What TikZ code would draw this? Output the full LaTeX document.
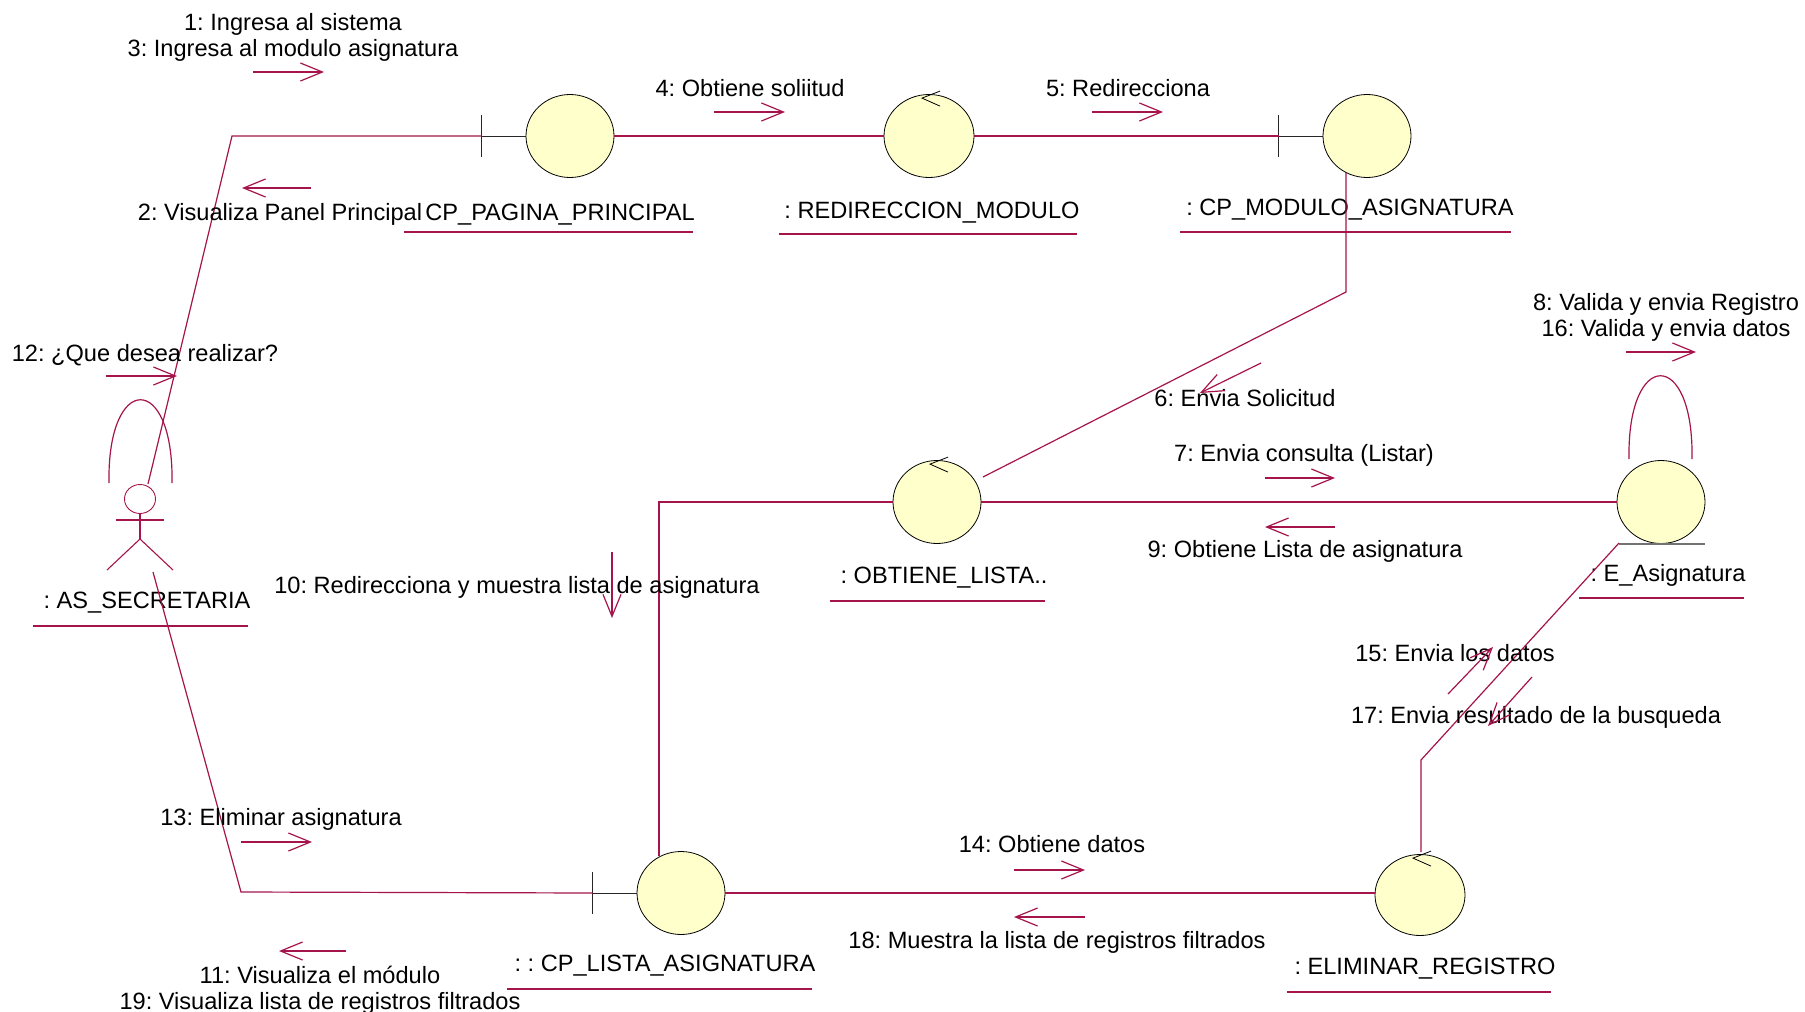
\documentclass[tikz,border=0pt]{standalone}
\usepackage{fontspec}
\setmainfont{Liberation Sans}
\usetikzlibrary{shapes.geometric,arrows.meta}
\definecolor{rose}{RGB}{165,20,75}
\definecolor{objfill}{RGB}{255,255,204}
\frenchspacing
\begin{document}
\begin{tikzpicture}[x=1pt,y=-1pt,
  lnk/.style={draw=rose,line width=1.2pt},
  msg/.style={draw=rose,line width=1.2pt,-{Straight Barb[length=22pt,width=18pt]}},
  obj/.style={ellipse,draw=black,line width=0.8pt,fill=objfill,inner sep=0pt,minimum width=88pt,minimum height=83pt},
  lbl/.style={inner sep=0pt,anchor=base,font=\fontsize{23.6}{26}\selectfont},
  mlbl/.style={inner sep=0pt,align=center,font=\fontsize{23.6}{26}\selectfont},
  uline/.style={draw=rose,line width=1.4pt},
  stub/.style={draw=black!85,line width=0.9pt},
  ctl/.style={draw=black,line width=0.8pt},
]
\useasboundingbox (0,0) rectangle (1805,1012);
\fill[white] (0,0) rectangle (1805,1012);

% ---------- objects ----------
\node[obj] (cpp) at (570,136) {};
\node[obj,minimum width=90pt] (red) at (929,136) {};
\node[obj] (cpm) at (1367,136) {};
\node[obj] (obt) at (937,502) {};
\node[obj] (ent) at (1661,502) {};
\node[obj] (lst) at (681,893) {};
\node[obj,minimum width=90pt,minimum height=81pt] (eli) at (1420,895) {};

% boundary stubs
\foreach \o in {cpp,cpm,lst}{
  \coordinate (\o T) at ([xshift=-44pt]\o.west);
  \draw[stub] (\o T) -- (\o.west);
  \draw[stub] ([yshift=21pt]\o T) -- ([yshift=-21pt]\o T);
}
% control arrows
\foreach \o in {red,obt,eli}{
  \draw[ctl] ([xshift=11pt,yshift=3pt]\o.north) -- ([xshift=-7pt,yshift=-4pt]\o.north) -- ([xshift=11pt,yshift=-12pt]\o.north);
}
% entity underline
\draw[draw=black!55,line width=1.2pt] ([xshift=-42pt]ent.south) -- ([xshift=44pt]ent.south);

% actor
\node[ellipse,draw=rose,line width=0.9pt,minimum width=31pt,minimum height=29pt,inner sep=0pt] (act) at (140,499) {};
\draw[rose,line width=1.1pt] (act.south) -- (140,539) coordinate (hip);
\draw[rose,line width=1.1pt] (116,520) -- (164,520);
\draw[rose,line width=1.1pt] (107,570) -- (hip) -- (173,570);

% ---------- labels & underlines ----------
\node[lbl] (lcpp) at (560,220) {CP\_PAGINA\_PRINCIPAL};
\draw[uline] (404,232) -- (693,232);
\node[lbl] (lred) at (932,218) {: REDIRECCION\_MODULO};
\draw[uline] (779,234) -- (1077,234);
\node[lbl] (lcpm) at (1350,215) {: CP\_MODULO\_ASIGNATURA};
\draw[uline] (1180,232) -- (1511,232);
\node[lbl] (lobt) at (944,583) {: OBTIENE\_LISTA..};
\draw[uline] (830,601) -- (1045,601);
\node[lbl] (lent) at (1668,581) {: E\_Asignatura};
\draw[uline] (1579,598) -- (1744,598);
\node[lbl] (lact) at (147,608) {: AS\_SECRETARIA};
\draw[uline] (33,626) -- (248,626);
\node[lbl] (llst) at (665,971) {: : CP\_LISTA\_ASIGNATURA};
\draw[uline] (507,989) -- (812,989);
\node[lbl] (leli) at (1425,974) {: ELIMINAR\_REGISTRO};
\draw[uline] (1287,992) -- (1551,992);

% ---------- links ----------
\coordinate (aTop) at (148,484);
\coordinate (aBot) at (153,572);
\coordinate (k1) at (232,136);
\draw[lnk] (aTop) -- (k1) -- (cppT);
\draw[lnk] (cpp.east) -- (red.west);
\draw[lnk] (red.east) -- (cpmT);
\coordinate (k2a) at (1346,173);
\coordinate (k2b) at (1346,292);
\coordinate (k2c) at (983,477);
\draw[lnk] (k2a) -- (k2b) -- (k2c);
\draw[lnk] (obt.east) -- (ent.west);
\coordinate (k3a) at (659,502);
\coordinate (k3b) at (659,856);
\draw[lnk] (obt.west) -- (k3a) -- (k3b);
\coordinate (k4) at (241,892);
\draw[lnk] (aBot) -- (k4) -- (lstT);
\draw[lnk] (lst.east) -- (lst.east -| eli.west);
\coordinate (k5a) at (1421,852);
\coordinate (k5b) at (1421,760);
\coordinate (k5c) at (1619,543);
\draw[lnk] (k5a) -- (k5b) -- (k5c);
% self loops
\coordinate (sa1) at (109,483);
\coordinate (sa2) at (172,483);
\draw[lnk] (sa1) .. controls (107,372) and (174,372) .. (sa2);
\coordinate (se1) at (1629,459);
\coordinate (se2) at (1692,459);
\draw[lnk] (se1) .. controls (1627,348) and (1694,348) .. (se2);

% ---------- messages ----------
\node[mlbl] (t1) at (293,37) {1: Ingresa al sistema\\3: Ingresa al modulo asignatura};
\coordinate (m1a) at (253,72); \coordinate (m1b) at (324,72);
\draw[msg] (m1a) -- (m1b);
\node[lbl] (t2) at (280,220) {2: Visualiza Panel Principal};
\coordinate (m2a) at (311,188); \coordinate (m2b) at (242,188);
\draw[msg] (m2a) -- (m2b);
\node[lbl] (t4) at (750,96) {4: Obtiene soliitud};
\coordinate (m4a) at (714,112); \coordinate (m4b) at (785,112);
\draw[msg] (m4a) -- (m4b);
\node[lbl] (t5) at (1128,96) {5: Redirecciona};
\coordinate (m5a) at (1092,112); \coordinate (m5b) at (1163,112);
\draw[msg] (m5a) -- (m5b);
\node[lbl] (t6) at (1245,406) {6: Envia Solicitud};
\coordinate (m6a) at (1261,363); \coordinate (m6b) at (1200,393);
\draw[msg] (m6a) -- (m6b);
\node[lbl] (t7) at (1304,461) {7: Envia consulta (Listar)};
\coordinate (m7a) at (1265,478); \coordinate (m7b) at (1335,478);
\draw[msg] (m7a) -- (m7b);
\node[lbl] (t9) at (1305,557) {9: Obtiene Lista de asignatura};
\coordinate (m9a) at (1335,527); \coordinate (m9b) at (1265,527);
\draw[msg] (m9a) -- (m9b);
\node[mlbl] (t8) at (1666,317) {8: Valida y envia Registro\\16: Valida y envia datos};
\coordinate (m8a) at (1626,352); \coordinate (m8b) at (1696,352);
\draw[msg] (m8a) -- (m8b);
\node[lbl] (t10) at (517,593) {10: Redirecciona y muestra lista de asignatura};
\coordinate (m10a) at (612,552); \coordinate (m10b) at (612,618);
\draw[msg] (m10a) -- (m10b);
\node[lbl] (t12) at (145,361) {12: ¿Que desea realizar?};
\coordinate (m12a) at (106,376); \coordinate (m12b) at (177,376);
\draw[msg] (m12a) -- (m12b);
\node[lbl] (t13) at (281,825) {13: Eliminar asignatura};
\coordinate (m13a) at (241,842); \coordinate (m13b) at (312,842);
\draw[msg] (m13a) -- (m13b);
\node[mlbl] (t11) at (320,990) {11: Visualiza el módulo\\19: Visualiza lista de registros filtrados};
\coordinate (m11a) at (346,951); \coordinate (m11b) at (279,951);
\draw[msg] (m11a) -- (m11b);
\node[lbl] (t14) at (1052,852) {14: Obtiene datos};
\coordinate (m14a) at (1014,870); \coordinate (m14b) at (1085,870);
\draw[msg] (m14a) -- (m14b);
\node[lbl] (t18) at (1057,948) {18: Muestra la lista de registros filtrados};
\coordinate (m18a) at (1085,917); \coordinate (m18b) at (1014,917);
\draw[msg] (m18a) -- (m18b);
\node[lbl] (t15) at (1455,661) {15: Envia los datos};
\coordinate (m15a) at (1448,694); \coordinate (m15b) at (1493,647);
\draw[msg] (m15a) -- (m15b);
\node[lbl] (t17) at (1536,723) {17: Envia resultado de la busqueda};
\coordinate (m17a) at (1532,677); \coordinate (m17b) at (1488,726);
\draw[msg] (m17a) -- (m17b);
\end{tikzpicture}
\end{document}
